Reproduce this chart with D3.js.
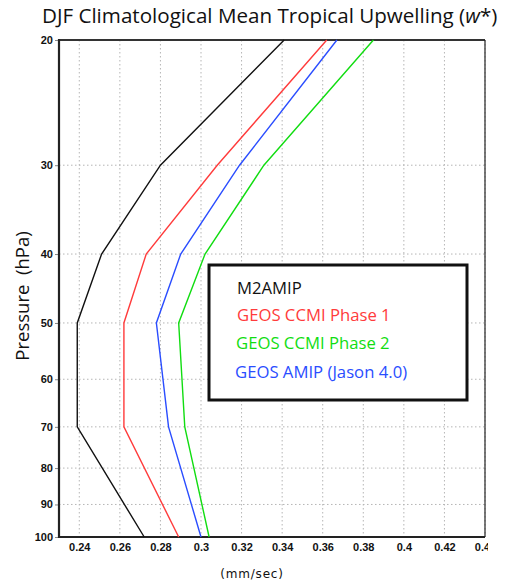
<!DOCTYPE html>
<html><head><meta charset="utf-8">
<script src="https://cdn.jsdelivr.net/npm/d3@7"></script>
<style>
html,body{margin:0;padding:0;background:#fff;}
svg{display:block;}
</style></head>
<body>
<script>
const pressure = [20, 30, 40, 50, 70, 100];
const m2amip = [0.341, 0.280, 0.251, 0.239, 0.239, 0.272];
const ccmi1  = [0.362, 0.308, 0.273, 0.262, 0.262, 0.289];
const ccmi2  = [0.385, 0.331, 0.302, 0.289, 0.292, 0.304];
const amip   = [0.367, 0.319, 0.290, 0.278, 0.284, 0.300];
const seriesNames = ["M2AMIP", "GEOS CCMI Phase 1", "GEOS CCMI Phase 2", "GEOS AMIP (Jason 4.0)"];
const seriesColors = ["#111111", "#ff3b3b", "#11dd11", "#2a4dff"];
const xTicks = [0.24, 0.26, 0.28, 0.30, 0.32, 0.34, 0.36, 0.38, 0.40, 0.42, 0.44];
const yTicks = [20, 30, 40, 50, 60, 70, 80, 90, 100];

const W = 507, H = 583;
const L = 59, R = 485, T = 40, B = 537;
const svg = d3.select("body").append("svg").attr("width", W).attr("height", H);
const sansFont = "'Open Sans', Lato, sans-serif";

const x = d3.scaleLinear().domain([0.23, 0.44]).range([L, R]);
const y = d3.scaleLog().domain([20, 100]).range([T, B]);

// grid
const grid = svg.append("g").attr("stroke", "#b5b5b5").attr("stroke-width", 1).attr("stroke-dasharray", "1.5,2.5");
grid.selectAll("line.v").data(xTicks).join("line")
  .attr("x1", d => x(d)).attr("x2", d => x(d)).attr("y1", T).attr("y2", B);
grid.selectAll("line.h").data(yTicks).join("line")
  .attr("y1", d => y(d)).attr("y2", d => y(d)).attr("x1", L).attr("x2", R);

// axes
const fmtX = d => d3.format(".2f")(d).replace(/0$/, "").replace(/\.$/, "");
svg.append("defs").append("clipPath").attr("id", "xclip")
  .append("rect").attr("x", 0).attr("y", 0).attr("width", 488).attr("height", H);
const xAxis = svg.append("g").attr("transform", `translate(0,${B})`).attr("clip-path", "url(#xclip)")
  .call(d3.axisBottom(x).tickValues(xTicks).tickFormat(fmtX).tickSize(0).tickPadding(6));
xAxis.select(".domain").remove();
xAxis.selectAll("text").attr("font-family", "Liberation Sans, Arial, sans-serif")
  .attr("font-size", 11).attr("font-weight", "bold").attr("fill", "#111");

const yAxis = svg.append("g").attr("transform", `translate(${L},0)`)
  .call(d3.axisLeft(y).tickValues(yTicks).tickFormat(d3.format("d")).tickSize(4).tickPadding(2));
yAxis.select(".domain").remove();
yAxis.selectAll("line").attr("stroke", "#888");
yAxis.selectAll("text").attr("font-family", "Liberation Sans, Arial, sans-serif")
  .attr("font-size", 11).attr("font-weight", "bold").attr("fill", "#111");

// frame
svg.append("line").attr("x1", L).attr("x2", R).attr("y1", T).attr("y2", T).attr("stroke", "#333").attr("stroke-width", 2);
svg.append("line").attr("x1", R).attr("x2", R).attr("y1", T).attr("y2", B).attr("stroke", "#222").attr("stroke-width", 1.2);
svg.append("line").attr("x1", L).attr("x2", L).attr("y1", T - 1).attr("y2", B + 1).attr("stroke", "#222").attr("stroke-width", 2.2);
svg.append("line").attr("x1", L).attr("x2", R).attr("y1", B).attr("y2", B).attr("stroke", "#222").attr("stroke-width", 2);

// lines
const allSeries = [m2amip, ccmi1, ccmi2, amip];
const line = d3.line().x(d => x(d[0])).y(d => y(d[1]));
allSeries.forEach((vals, i) => {
  svg.append("path").datum(vals.map((v, j) => [v, pressure[j]]))
    .attr("d", line).attr("fill", "none").attr("stroke", seriesColors[i]).attr("stroke-width", 1.4);
});

// legend
svg.append("rect").attr("x", 209).attr("y", 265).attr("width", 258).attr("height", 135)
  .attr("fill", "#fff").attr("stroke", "#111").attr("stroke-width", 3);
const legY = [294, 321, 349, 378];
const legX = [237, 237, 236, 235];
seriesNames.forEach((n, i) => {
  svg.append("text").attr("x", legX[i]).attr("y", legY[i]).text(n)
    .attr("font-family", sansFont).attr("font-size", 16.7)
    .attr("fill", seriesColors[i]);
});

// title
svg.append("text").attr("x", 42).attr("y", 23)
  .attr("font-family", sansFont).attr("font-size", 20.6).attr("fill", "#111")
  .text("DJF Climatological Mean Tropical Upwelling (")
  .append("tspan").attr("font-style", "italic").text("w")
  .select(function(){ return this.parentNode; })
  .append("tspan").text("*)");

// axis labels
svg.append("text").attr("transform", "translate(29,296) rotate(-90)").attr("text-anchor", "middle")
  .attr("font-family", sansFont).attr("font-size", 18.5).attr("fill", "#111")
  .attr("xml:space", "preserve").style("white-space", "pre").text("Pressure  (hPa)");
svg.append("text").attr("x", 252).attr("y", 578).attr("text-anchor", "middle")
  .attr("font-family", "'DejaVu Sans', sans-serif").attr("font-size", 12).attr("letter-spacing", 0.8)
  .attr("fill", "#111").text("(mm/sec)");
</script>
</body></html>
